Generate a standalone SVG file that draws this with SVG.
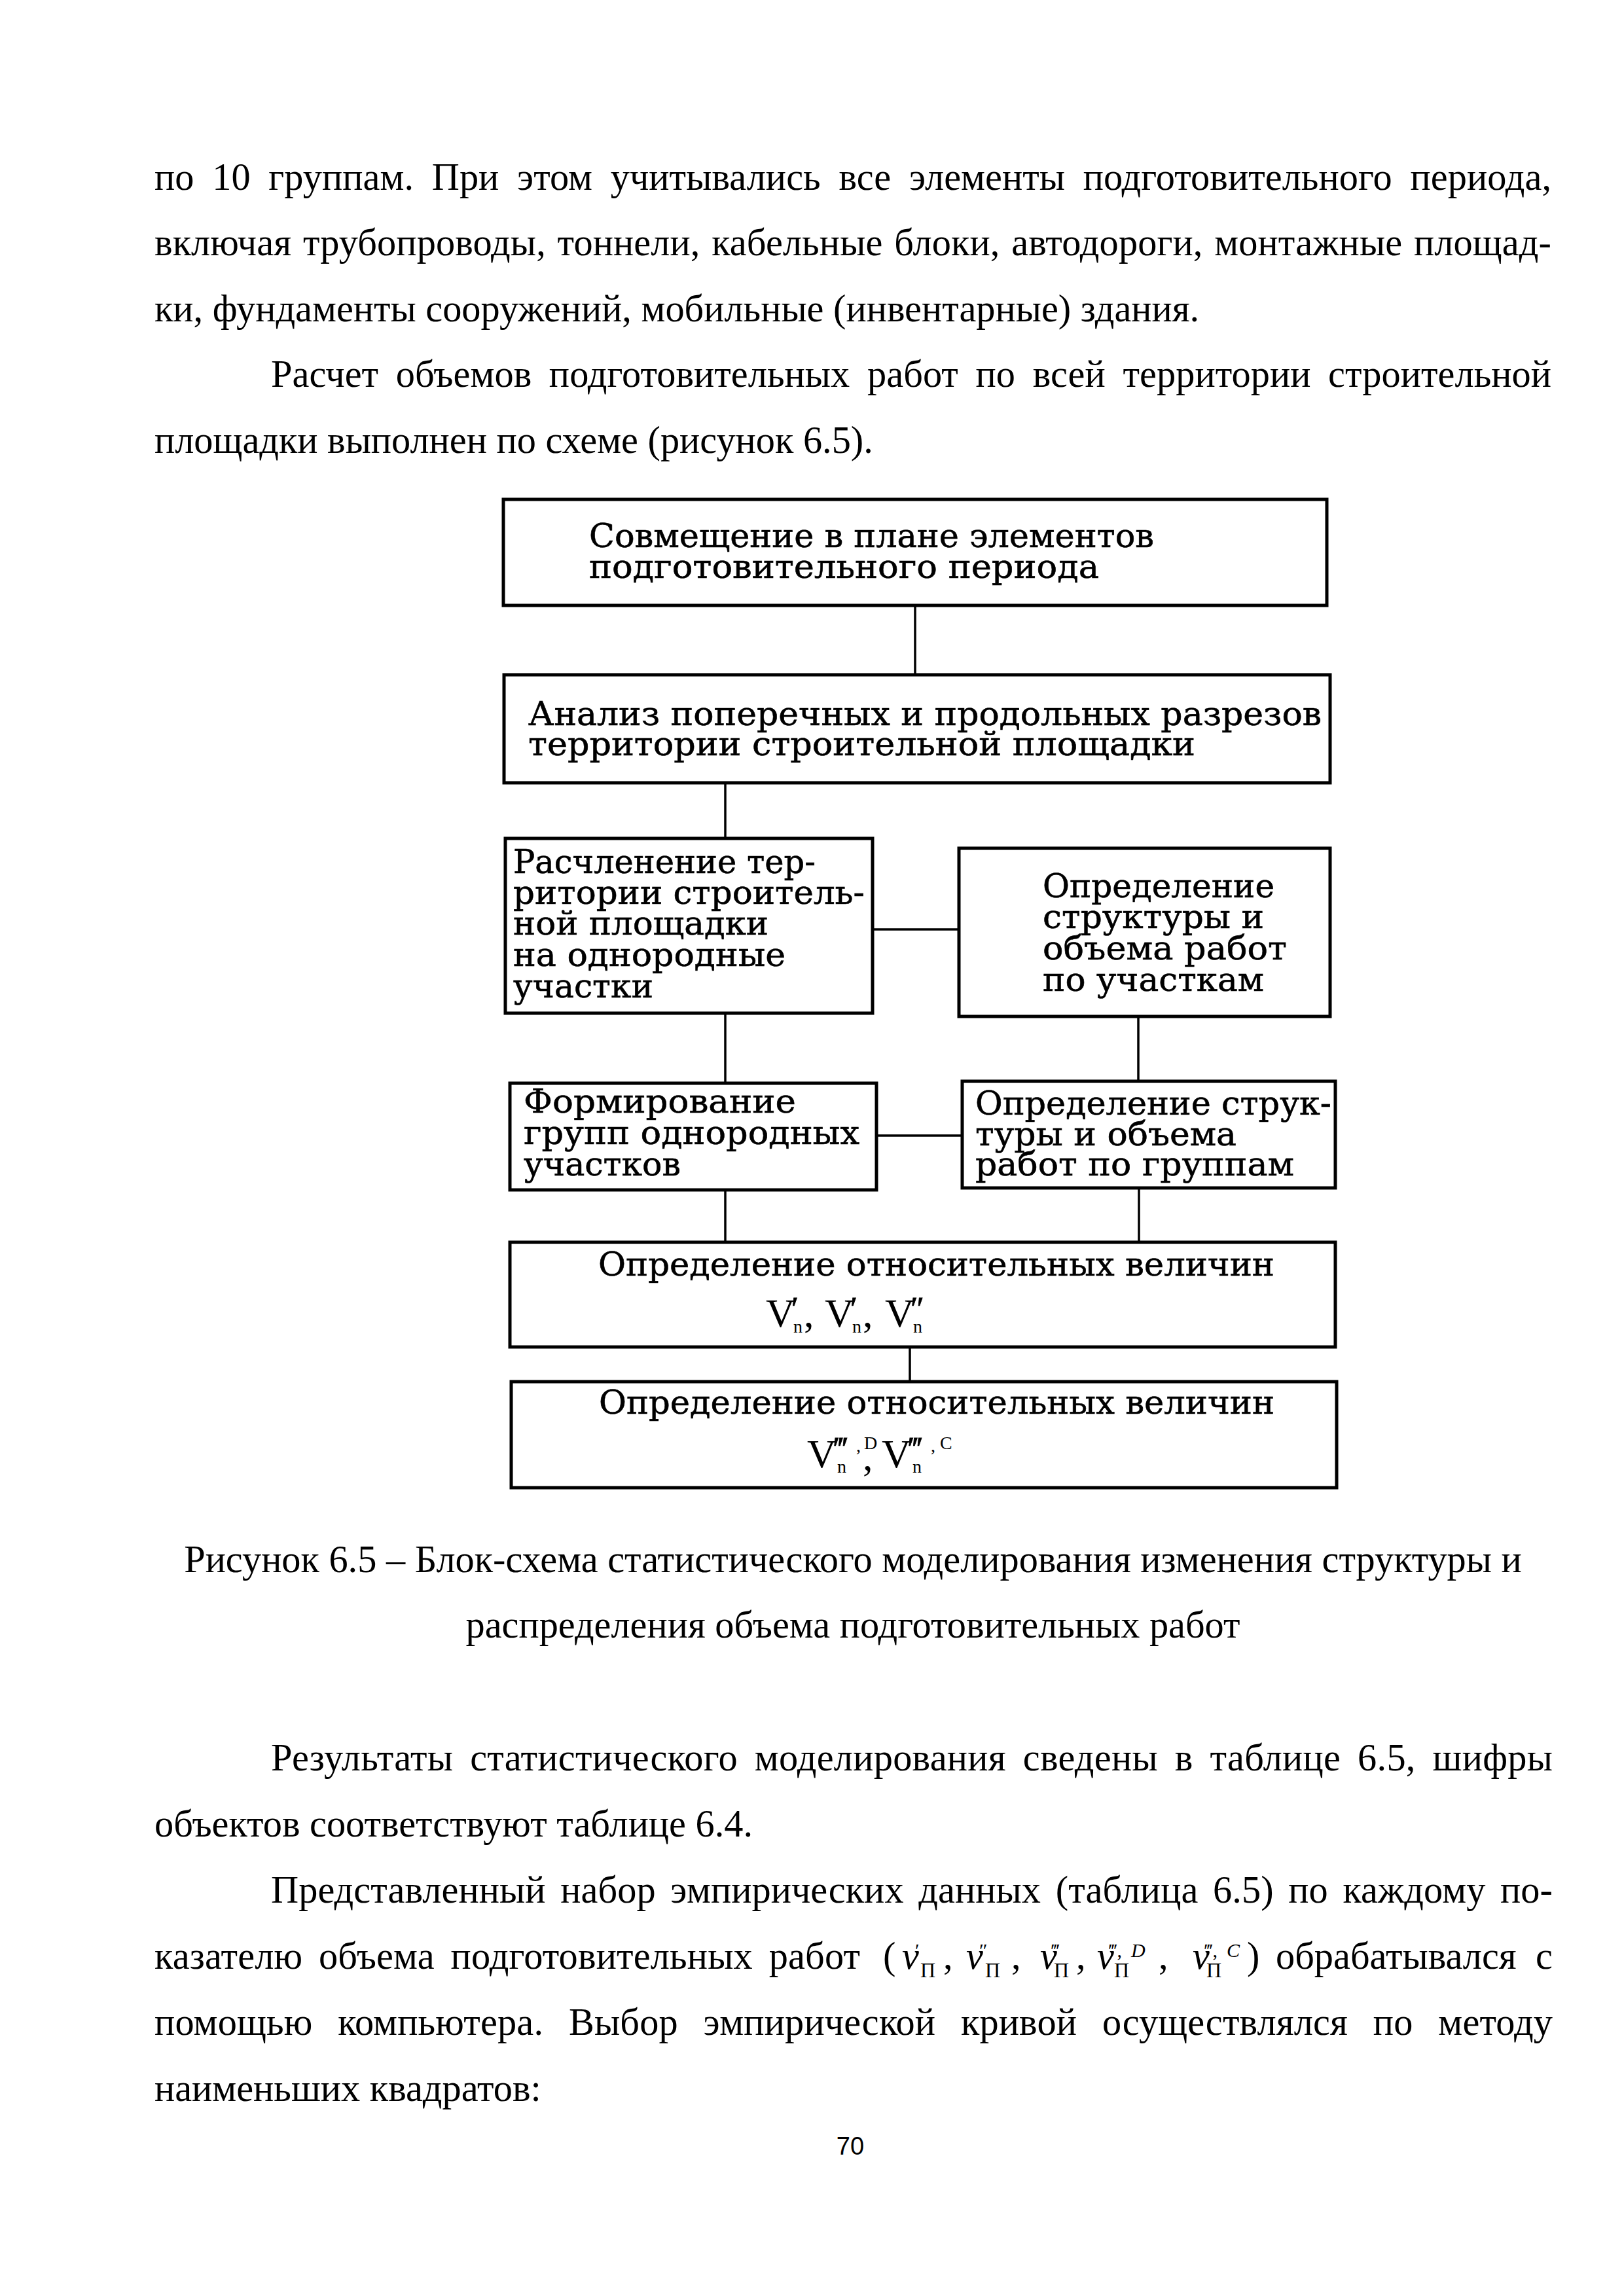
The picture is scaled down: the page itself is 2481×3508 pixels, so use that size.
<svg xmlns="http://www.w3.org/2000/svg" width="2481" height="3508" viewBox="0 0 2481 3508">
<style>
.body{font-family:"Liberation Serif","Times New Roman",serif;font-size:58.33px;fill:#000}
.box{fill:none;stroke:#000;stroke-width:5}
.bt{font-family:"DejaVu Serif",serif;font-size:51px;fill:#000;stroke:#000;stroke-width:0.6}
#connectors line{stroke:#000;stroke-width:3.5}
.fv{font-family:"Liberation Serif","DejaVu Serif",serif;font-size:62px;fill:#000}
.fs{font-family:"Liberation Serif","DejaVu Serif",serif;font-size:28px;fill:#000}
.fp{font-family:"Liberation Serif","DejaVu Serif",serif;font-size:50px;fill:#000;stroke:#000;stroke-width:0.8}
.iv{font-family:"Liberation Serif",serif;font-size:58.33px;font-style:italic;fill:#000}
.sub{font-family:"Liberation Serif",serif;font-size:32px;fill:#000}
.sup{font-family:"Liberation Serif","DejaVu Serif",serif;font-size:30px;fill:#000}
.supi{font-family:"Liberation Serif",serif;font-size:30px;font-style:italic;fill:#000}
.pn{font-family:"Liberation Sans",Arial,sans-serif;font-size:38px;fill:#000}
</style>
<rect width="2481" height="3508" fill="#fff"/>

<g id="text-top">
<text class="body" x="236" y="290" word-spacing="13" textLength="2134" lengthAdjust="spacing">по 10 группам. При этом учитывались все элементы подготовительного периода,</text>
<text class="body" x="236" y="390" word-spacing="3" textLength="2134" lengthAdjust="spacing">включая трубопроводы, тоннели, кабельные блоки, автодороги, монтажные площад-</text>
<text class="body" x="236" y="491">ки, фундаменты сооружений, мобильные (инвентарные) здания.</text>
<text class="body" x="414" y="591" word-spacing="12" textLength="1956" lengthAdjust="spacing">Расчет объемов подготовительных работ по всей территории строительной</text>
<text class="body" x="236" y="692">площадки выполнен по схеме (рисунок 6.5).</text>
</g>

<g id="connectors">
<line x1="1398" y1="925" x2="1398" y2="1031"/>
<line x1="1108" y1="1196" x2="1108" y2="1281"/>
<line x1="1333" y1="1420" x2="1465" y2="1420"/>
<line x1="1108" y1="1548" x2="1108" y2="1655"/>
<line x1="1739" y1="1553" x2="1739" y2="1652"/>
<line x1="1339" y1="1735" x2="1470" y2="1735"/>
<line x1="1108" y1="1818" x2="1108" y2="1898"/>
<line x1="1740" y1="1815" x2="1740" y2="1898"/>
<line x1="1390" y1="2058" x2="1390" y2="2111"/>
</g>

<g id="node-1">
<rect class="box" x="769" y="763" width="1258" height="162"/>
<text class="bt" x="900" y="836" textLength="863" lengthAdjust="spacingAndGlyphs">Совмещение в плане элементов</text>
<text class="bt" x="900" y="883" textLength="779" lengthAdjust="spacingAndGlyphs">подготовительного периода</text>
</g>

<g id="node-2">
<rect class="box" x="770" y="1031" width="1262" height="165"/>
<text class="bt" x="807" y="1108" textLength="1212" lengthAdjust="spacingAndGlyphs">Анализ поперечных и продольных разрезов</text>
<text class="bt" x="807" y="1154" textLength="1019" lengthAdjust="spacingAndGlyphs">территории строительной площадки</text>
</g>

<g id="node-3">
<rect class="box" x="772" y="1281" width="561" height="267"/>
<text class="bt" x="784" y="1334" textLength="462" lengthAdjust="spacingAndGlyphs">Расчленение тер-</text>
<text class="bt" x="784" y="1381" textLength="537" lengthAdjust="spacingAndGlyphs">ритории строитель-</text>
<text class="bt" x="784" y="1428" textLength="390" lengthAdjust="spacingAndGlyphs">ной площадки</text>
<text class="bt" x="784" y="1476" textLength="416" lengthAdjust="spacingAndGlyphs">на однородные</text>
<text class="bt" x="784" y="1524" textLength="214" lengthAdjust="spacingAndGlyphs">участки</text>
</g>

<g id="node-4">
<rect class="box" x="1465" y="1296" width="567" height="257"/>
<text class="bt" x="1593" y="1371" textLength="354" lengthAdjust="spacingAndGlyphs">Определение</text>
<text class="bt" x="1593" y="1418" textLength="338" lengthAdjust="spacingAndGlyphs">структуры и</text>
<text class="bt" x="1593" y="1466" textLength="373" lengthAdjust="spacingAndGlyphs">объема работ</text>
<text class="bt" x="1593" y="1514" textLength="338" lengthAdjust="spacingAndGlyphs">по участкам</text>
</g>

<g id="node-5">
<rect class="box" x="779" y="1655" width="560" height="163"/>
<text class="bt" x="800" y="1700" textLength="416" lengthAdjust="spacingAndGlyphs">Формирование</text>
<text class="bt" x="800" y="1748" textLength="513" lengthAdjust="spacingAndGlyphs">групп однородных</text>
<text class="bt" x="800" y="1796" textLength="240" lengthAdjust="spacingAndGlyphs">участков</text>
</g>

<g id="node-6">
<rect class="box" x="1470" y="1652" width="570" height="163"/>
<text class="bt" x="1490" y="1703" textLength="544" lengthAdjust="spacingAndGlyphs">Определение струк-</text>
<text class="bt" x="1490" y="1750" textLength="399" lengthAdjust="spacingAndGlyphs">туры и объема</text>
<text class="bt" x="1490" y="1796" textLength="487" lengthAdjust="spacingAndGlyphs">работ по группам</text>
</g>

<g id="node-7">
<rect class="box" x="779" y="1898" width="1261" height="160"/>
<text class="bt" x="914" y="1949" textLength="1033" lengthAdjust="spacingAndGlyphs">Определение относительных величин</text>
<text class="fv" x="1170" y="2027">V</text>
<text class="fp" x="1209" y="2016">′</text>
<text class="fs" x="1212" y="2036">n</text>
<text class="fv" x="1228" y="2027">,</text>
<text class="fv" x="1260" y="2027">V</text>
<text class="fp" x="1299" y="2016">′</text>
<text class="fs" x="1302" y="2036">n</text>
<text class="fv" x="1318" y="2027">,</text>
<text class="fv" x="1352" y="2027">V</text>
<text class="fp" x="1391" y="2016">″</text>
<text class="fs" x="1395" y="2036">n</text>
</g>

<g id="node-8">
<rect class="box" x="781" y="2111" width="1261" height="162"/>
<text class="bt" x="915" y="2160" textLength="1032" lengthAdjust="spacingAndGlyphs">Определение относительных величин</text>
<text class="fv" x="1233" y="2242">V</text>
<text class="fp" x="1274" y="2230" font-size="44">‴</text>
<text class="fs" x="1308" y="2218">,</text>
<text class="fs" x="1320" y="2214">D</text>
<text class="fs" x="1279" y="2250">n</text>
<text class="fv" x="1318" y="2246" font-size="40">,</text>
<text class="fv" x="1347" y="2242">V</text>
<text class="fp" x="1388" y="2230" font-size="44">‴</text>
<text class="fs" x="1422" y="2218">,</text>
<text class="fs" x="1436" y="2214">C</text>
<text class="fs" x="1394" y="2250">n</text>
</g>

<g id="caption">
<text class="body" x="1303" y="2402" text-anchor="middle">Рисунок 6.5 – Блок-схема статистического моделирования изменения структуры и</text>
<text class="body" x="1303" y="2502" text-anchor="middle">распределения объема подготовительных работ</text>
</g>

<g id="text-bottom">
<text class="body" x="414" y="2705" word-spacing="11" textLength="1958" lengthAdjust="spacing">Результаты статистического моделирования сведены в таблице 6.5, шифры</text>
<text class="body" x="236" y="2806">объектов соответствуют таблице 6.4.</text>
<text class="body" x="414" y="2907" word-spacing="8" textLength="1958" lengthAdjust="spacing">Представленный набор эмпирических данных (таблица 6.5) по каждому по-</text>
<text class="body" x="236" y="3008" word-spacing="10" textLength="1078" lengthAdjust="spacing">казателю объема подготовительных работ</text>
<text class="body" x="1349" y="3008">(</text>
<text class="iv" x="1378" y="3008">v</text>
<text class="sup" x="1398" y="2990">′</text>
<text class="sub" x="1406" y="3021">П</text>
<text class="body" x="1441" y="3008">,</text>
<text class="iv" x="1476" y="3008">v</text>
<text class="sup" x="1496" y="2990">″</text>
<text class="sub" x="1505" y="3021">П</text>
<text class="body" x="1545" y="3008">,</text>
<text class="iv" x="1589" y="3008">v</text>
<text class="sup" x="1606" y="2990">‴</text>
<text class="sub" x="1610" y="3021">П</text>
<text class="body" x="1644" y="3008">,</text>
<text class="iv" x="1676" y="3008">v</text>
<text class="sup" x="1694" y="2990">‴,</text>
<text class="supi" x="1728" y="2990">D</text>
<text class="sub" x="1702" y="3021">П</text>
<text class="body" x="1770" y="3008">,</text>
<text class="iv" x="1822" y="3008">v</text>
<text class="sup" x="1840" y="2990">‴,</text>
<text class="supi" x="1874" y="2990">C</text>
<text class="sub" x="1843" y="3021">П</text>
<text class="body" x="1905" y="3008">)</text>
<text class="body" x="1949" y="3008">обрабатывался</text>
<text class="body" x="2372" y="3008" text-anchor="end">с</text>
<text class="body" x="236" y="3109" word-spacing="24" textLength="2136" lengthAdjust="spacing">помощью компьютера. Выбор эмпирической кривой осуществлялся по методу</text>
<text class="body" x="236" y="3210">наименьших квадратов:</text>
<text class="pn" x="1299" y="3292" text-anchor="middle">70</text>
</g>
</svg>
